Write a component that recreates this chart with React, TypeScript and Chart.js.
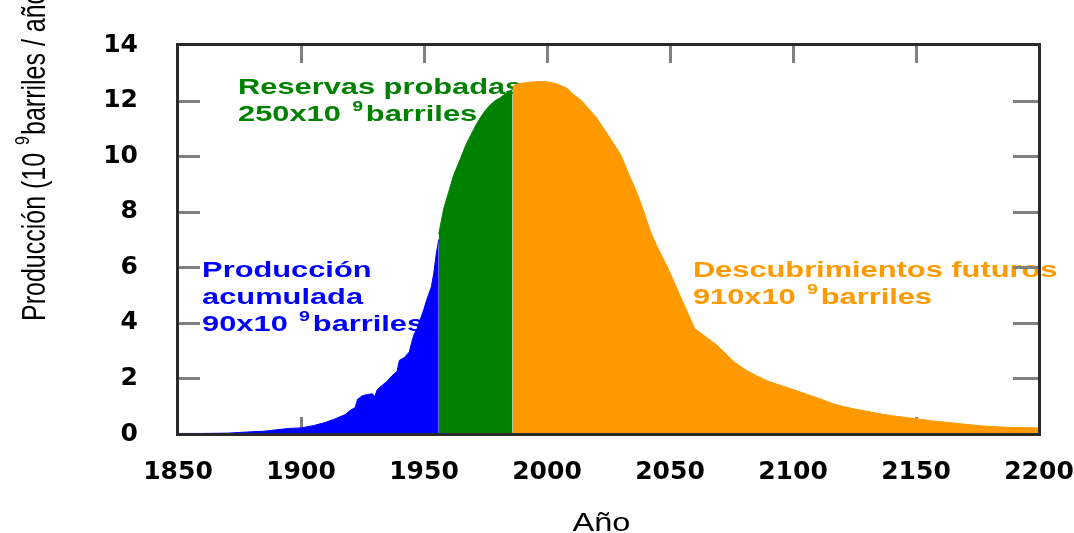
import React, { useEffect, useRef } from "react";
import { Chart, registerables } from "chart.js";

Chart.register(...registerables);

// ---- data ----
const yearsCumulative = [
  1850, 1860, 1870, 1880, 1885, 1890, 1895, 1900, 1905, 1910, 1914, 1918, 1920, 1922, 1923, 1925,
  1927, 1929, 1930, 1931, 1933, 1935, 1937, 1939, 1940, 1942, 1944, 1945, 1946, 1947, 1948, 1950,
  1951, 1953, 1954, 1955, 1956,
];
const prodCumulative = [
  0.02, 0.02, 0.03, 0.08, 0.1, 0.15, 0.2, 0.22, 0.3, 0.42, 0.55, 0.7, 0.85, 0.95, 1.25, 1.38,
  1.42, 1.45, 1.35, 1.6, 1.75, 1.9, 2.1, 2.25, 2.65, 2.75, 2.95, 3.3, 3.6, 3.75, 4.0, 4.5,
  4.8, 5.3, 5.8, 6.5, 7.0,
];

const yearsReserves = [1956, 1958, 1960, 1962, 1965, 1967, 1969, 1971, 1973, 1975, 1977, 1979, 1981, 1983, 1986];
const prodReserves = [7.2, 8.1, 8.7, 9.3, 9.95, 10.4, 10.75, 11.1, 11.4, 11.65, 11.85, 12.0, 12.1, 12.25, 12.4];

const yearsFuture = [
  1986, 1988, 1992, 1996, 2000, 2004, 2008, 2011, 2014, 2017, 2020, 2023, 2026, 2030, 2033, 2036,
  2039, 2042, 2045, 2049, 2052, 2055, 2058, 2060, 2063, 2066, 2069, 2072, 2076, 2080, 2085, 2090,
  2095, 2100, 2105, 2110, 2116, 2120, 2125, 2130, 2136, 2140, 2150, 2157, 2165, 2170, 2177, 2185,
  2190, 2200,
];
const prodFuture = [
  12.5, 12.6, 12.65, 12.68, 12.68, 12.6, 12.45, 12.2, 12.0, 11.7, 11.4, 11.0, 10.6, 10.05, 9.4, 8.8,
  8.1, 7.3, 6.7, 6.0, 5.4, 4.8, 4.2, 3.8, 3.6, 3.4, 3.2, 2.95, 2.6, 2.35, 2.1, 1.9,
  1.75, 1.6, 1.45, 1.3, 1.1, 1.0, 0.9, 0.82, 0.72, 0.66, 0.55, 0.47, 0.4, 0.35, 0.29, 0.25,
  0.23, 0.22,
];

const xTickValues = [1850, 1900, 1950, 2000, 2050, 2100, 2150, 2200];
const yTickValues = [0, 2, 4, 6, 8, 10, 12, 14];

type Run = { t: string; sup?: boolean };
const labelCumulative: Run[][] = [
  [{ t: "Producción" }],
  [{ t: "acumulada" }],
  [{ t: "90x10 " }, { t: "9", sup: true }, { t: "barriles" }],
];
const labelReserves: Run[][] = [
  [{ t: "Reservas probadas" }],
  [{ t: "250x10 " }, { t: "9", sup: true }, { t: "barriles" }],
];
const labelFuture: Run[][] = [
  [{ t: "Descubrimientos futuros" }],
  [{ t: "910x10 " }, { t: "9", sup: true }, { t: "barriles" }],
];
const yTitleRuns: Run[] = [{ t: "Producción (10 " }, { t: "9", sup: true }, { t: "barriles / año)" }];
const xTitle = "Año";

// ---- styles ----
const BLUE = "#0000ff";
const GREEN = "#008000";
const ORANGE = "#ff9900";
const SANS = '"Liberation Sans", Arial, sans-serif';

const pts = (xs: number[], ys: number[]) => xs.map((x, i) => ({ x, y: ys[i] }));

function drawRuns(
  ctx: CanvasRenderingContext2D,
  runs: Run[],
  font: string,
  supFont: string,
  supRaise: number,
  gap: number
) {
  let cx = 0;
  for (const r of runs) {
    ctx.font = r.sup ? supFont : font;
    if (r.sup) cx += gap;
    ctx.fillText(r.t, cx, r.sup ? -supRaise : 0);
    cx += ctx.measureText(r.t).width + (r.sup ? gap : 0);
  }
}

const annotations = [
  { lines: labelCumulative, color: BLUE, x: 1859.8, y: 5.66 },
  { lines: labelReserves, color: GREEN, x: 1874.4, y: 12.25 },
  { lines: labelFuture, color: ORANGE, x: 2059.3, y: 5.66 },
];

const decorPlugin = {
  id: "decor",
  beforeDatasetsDraw(chart: any) {
    const { ctx, chartArea: a, scales } = chart;
    const xs = scales.x;
    const ys = scales.y;
    // annotation texts (drawn below the fills)
    ctx.save();
    ctx.textBaseline = "alphabetic";
    ctx.textAlign = "left";
    for (const an of annotations) {
      const px = xs.getPixelForValue(an.x);
      const py = ys.getPixelForValue(an.y);
      ctx.fillStyle = an.color;
      an.lines.forEach((line, i) => {
        ctx.save();
        ctx.translate(px, py + i * 27);
        ctx.scale(1.4, 1);
        drawRuns(ctx, line, `bold 22px ${SANS}`, `bold 14px ${SANS}`, 10, 2);
        ctx.restore();
      });
    }
    ctx.restore();
    // inward tick marks
    ctx.save();
    ctx.strokeStyle = "#808080";
    ctx.lineWidth = 3;
    ctx.beginPath();
    for (const v of yTickValues) {
      if (v === yTickValues[0] || v === yTickValues[yTickValues.length - 1]) continue;
      const y = Math.round(ys.getPixelForValue(v)) + 0.5;
      ctx.moveTo(a.left, y);
      ctx.lineTo(a.left + 22, y);
      ctx.moveTo(a.right, y);
      ctx.lineTo(a.right - 26, y);
    }
    for (const v of xTickValues) {
      if (v === xTickValues[0] || v === xTickValues[xTickValues.length - 1]) continue;
      const x = Math.round(xs.getPixelForValue(v)) + 0.5;
      ctx.moveTo(x, a.top);
      ctx.lineTo(x, a.top + 18);
      ctx.moveTo(x, a.bottom);
      ctx.lineTo(x, a.bottom - 17);
    }
    ctx.stroke();
    ctx.restore();
  },
  afterDatasetsDraw(chart: any) {
    const { ctx, chartArea: a } = chart;
    ctx.save();
    ctx.strokeStyle = "#2a2a2a";
    ctx.lineWidth = 3;
    ctx.strokeRect(a.left - 0.5, a.top - 0.5, a.right - a.left + 1, a.bottom - a.top + 1);
    ctx.restore();
  },
  afterDraw(chart: any) {
    const { ctx } = chart;
    ctx.save();
    ctx.fillStyle = "#000";
    ctx.textBaseline = "alphabetic";
    // x title
    ctx.save();
    ctx.translate(601.5, 531);
    ctx.scale(1.3, 1);
    ctx.font = `25px ${SANS}`;
    ctx.textAlign = "center";
    ctx.fillText(xTitle, 0, 0);
    ctx.restore();
    // y title (rotated)
    ctx.save();
    ctx.translate(45, 321);
    ctx.rotate(-Math.PI / 2);
    ctx.scale(1, 1.3);
    ctx.textAlign = "left";
    drawRuns(ctx, yTitleRuns, `25px ${SANS}`, `16px ${SANS}`, 12, 1);
    ctx.restore();
    ctx.restore();
  },
};

const tickFont = { family: '"DejaVu Sans", sans-serif', size: 25, weight: "bold" as const };

export default function App() {
  const ref = useRef<HTMLCanvasElement>(null);
  useEffect(() => {
    if (!ref.current) return;
    const mk = (label: string, xs: number[], ys: number[], color: string) => ({
      label,
      data: pts(xs, ys),
      borderColor: color,
      backgroundColor: color,
      borderWidth: 1,
      pointRadius: 0,
      fill: "origin",
      tension: 0,
    });
    const chart = new Chart(ref.current, {
      type: "line",
      data: {
        datasets: [
          mk("Producción acumulada", yearsCumulative, prodCumulative, BLUE),
          mk("Reservas probadas", yearsReserves, prodReserves, GREEN),
          mk("Descubrimientos futuros", yearsFuture, prodFuture, ORANGE),
        ],
      },
      options: {
        animation: false,
        responsive: true,
        maintainAspectRatio: false,
        layout: { padding: { left: 0, top: 45, right: 35, bottom: 0 } },
        plugins: { legend: { display: false }, tooltip: { enabled: false } },
        scales: {
          x: {
            type: "linear",
            min: 1850,
            max: 2200,
            grid: { display: false },
            border: { display: false },
            afterBuildTicks: (s: any) => {
              s.ticks = xTickValues.map((v) => ({ value: v }));
            },
            afterFit: (s: any) => {
              s.height = 99;
              s.paddingLeft = 0;
              s.paddingRight = 0;
            },
            ticks: {
              autoSkip: false,
              maxRotation: 0,
              padding: 15,
              color: "#000",
              font: tickFont,
              callback: (v: any) => String(v),
            },
          },
          y: {
            type: "linear",
            min: 0,
            max: 14,
            grid: { display: false },
            border: { display: false },
            afterBuildTicks: (s: any) => {
              s.ticks = yTickValues.map((v) => ({ value: v }));
            },
            afterFit: (s: any) => {
              s.width = 178;
              s.paddingTop = 0;
              s.paddingBottom = 0;
            },
            ticks: {
              autoSkip: false,
              padding: 32,
              color: "#000",
              font: tickFont,
              callback: (v: any) => String(v),
            },
          },
        },
      },
      plugins: [decorPlugin],
    } as any);
    return () => chart.destroy();
  }, []);
  return (
    <div style={{ position: "absolute", left: 0, top: 0, width: 1074, height: 533, background: "#fff" }}>
      <canvas ref={ref} />
    </div>
  );
}
